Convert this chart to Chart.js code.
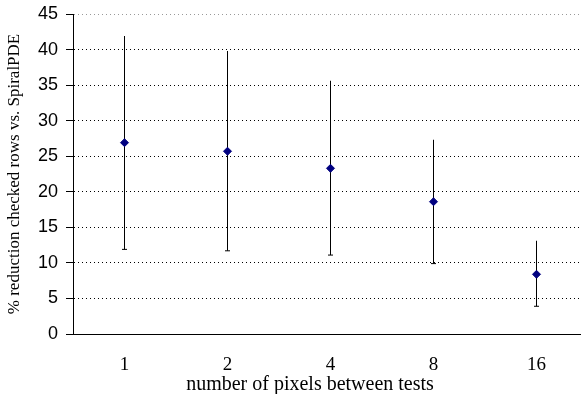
<!DOCTYPE html>
<html>
<head>
<meta charset="utf-8">
<script src="https://cdn.jsdelivr.net/npm/chart.js"></script>
<style>
  html, body { margin: 0; padding: 0; background: #fff; overflow: hidden; }
  #wrap { width: 620px; height: 394px; position: relative; }
</style>
</head>
<body>
<div id="wrap"><canvas id="chart"></canvas></div>
<script>
// values
const categories = ['1', '2', '4', '8', '16'];
const meanValues = [26.9, 25.7, 23.3, 18.6, 8.4];
const lowValues = [11.9, 11.7, 11.1, 9.9, 3.9];
const highValues = [41.9, 39.8, 35.6, 27.3, 13.1];
const yMin = 0;
const yMax = 45;
const yStep = 5;

const xTitle = 'number of pixels between tests';
const yTitle = '% reduction checked rows vs. SpiralPDE';

const serif = "'Liberation Serif', 'Times New Roman', serif";
const sans = "'Liberation Sans', Arial, sans-serif";

// error bar = thin floating bar from low to high
const ranges = lowValues.map((lo, i) => [lo, highValues[i]]);

new Chart(document.getElementById('chart'), {
  type: 'bar',
  data: {
    labels: categories,
    datasets: [
      {
        type: 'line',
        label: 'mean',
        data: meanValues,
        showLine: false,
        pointStyle: 'rectRot',
        pointRadius: 4,
        backgroundColor: '#000080',
        borderColor: '#000080',
        borderWidth: 1,
        order: 0
      },
      {
        type: 'line',
        label: 'cap',
        data: lowValues,
        showLine: false,
        pointStyle: 'line',
        pointRadius: 2.5,
        borderColor: '#000',
        borderWidth: 1,
        order: 1
      },
      {
        type: 'bar',
        label: 'range',
        data: ranges,
        backgroundColor: '#000',
        borderWidth: 0,
        barThickness: 1,
        inflateAmount: 0,
        order: 2
      }
    ]
  },
  options: {
    responsive: true,
    maintainAspectRatio: false,
    animation: false,
    layout: {
      padding: { top: 14, right: 0, left: 0, bottom: 0 }
    },
    plugins: {
      legend: { display: false },
      tooltip: { enabled: false },
      title: {
        display: true,
        position: 'bottom',
        text: xTitle,
        color: '#000',
        font: { family: serif, size: 20, weight: 'normal', lineHeight: 0.95 },
        padding: 0
      }
    },
    scales: {
      x: {
        grid: {
          display: true,
          drawOnChartArea: false,
          drawTicks: true,
          tickLength: 22,
          tickColor: 'rgba(0,0,0,0)',
          color: 'rgba(0,0,0,0)'
        },
        border: { display: true, color: '#000', width: 1 },
        ticks: {
          color: '#000',
          font: { family: serif, size: 19, lineHeight: 1 },
          padding: 0
        }
      },
      y: {
        min: yMin,
        max: yMax,
        afterFit: (scale) => { scale.width = 73; },
        ticks: {
          stepSize: yStep,
          color: '#000',
          font: { family: sans, size: 18, lineHeight: 0.6 },
          padding: 8
        },
        grid: {
          color: (ctx) => (ctx.tick && ctx.tick.value === yMax ? '#999' : '#000'),
          lineWidth: 1,
          drawTicks: true,
          tickLength: 7,
          tickColor: '#000',
          tickBorderDash: []
        },
        border: { display: true, color: '#000', width: 1, dash: [1, 3] },
        title: {
          display: true,
          text: yTitle,
          color: '#000',
          font: { family: serif, size: 17 },
          padding: { top: 4, bottom: 7 }
        }
      },
      // empty strip on the right, past the visible edge
      yRight: {
        position: 'right',
        display: true,
        afterFit: (scale) => { scale.width = 32; },
        grid: { display: false, drawTicks: false },
        border: { display: false },
        ticks: { display: false }
      }
    }
  }
});
</script>
</body>
</html>
